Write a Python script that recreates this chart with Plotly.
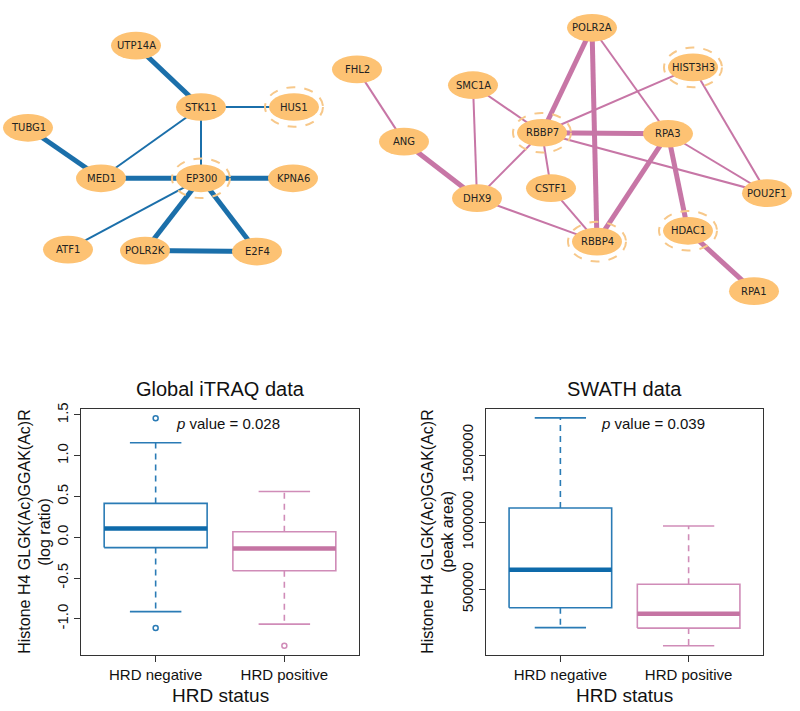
import plotly.graph_objects as go

# --- network data (positions in layout units) ---
left_nodes = ['UTP14A', 'STK11', 'HUS1', 'TUBG1', 'MED1', 'EP300', 'KPNA6', 'ATF1', 'POLR2K', 'E2F4']
left_x = [136, 201, 294, 28, 101, 201, 293, 68, 145, 257]
left_y = [39, 101, 101, 122, 173, 173, 173, 245, 246, 247]
left_ring = ['HUS1', 'EP300']
left_edges = [('UTP14A', 'STK11', 'thick'), ('STK11', 'HUS1', 'thin'), ('STK11', 'MED1', 'thin'),
              ('STK11', 'EP300', 'thin'), ('TUBG1', 'MED1', 'thick'), ('MED1', 'EP300', 'thick'),
              ('EP300', 'KPNA6', 'thick'), ('EP300', 'ATF1', 'thin'), ('EP300', 'POLR2K', 'thick'),
              ('EP300', 'E2F4', 'thick'), ('POLR2K', 'E2F4', 'thick')]

right_nodes = ['POLR2A', 'FHL2', 'SMC1A', 'HIST3H3', 'RBBP7', 'RPA3', 'ANG', 'DHX9', 'CSTF1',
               'POU2F1', 'RBBP4', 'HDAC1', 'RPA1']
right_x = [592, 357, 473, 693, 542, 668, 404, 477, 551, 767, 597, 688, 754]
right_y = [21, 63, 79, 61, 127, 128, 136, 193, 183, 188, 237, 226, 287]
right_ring = ['HIST3H3', 'RBBP7', 'RBBP4', 'HDAC1']
right_edges = [('FHL2', 'ANG', 'thin'), ('ANG', 'DHX9', 'thick'), ('SMC1A', 'DHX9', 'thin'),
               ('SMC1A', 'RBBP7', 'thin'), ('RBBP7', 'DHX9', 'thin'), ('RBBP7', 'POLR2A', 'thick'),
               ('POLR2A', 'RBBP4', 'thick'), ('POLR2A', 'RPA3', 'thin'), ('HIST3H3', 'RBBP7', 'thin'),
               ('HIST3H3', 'POU2F1', 'thin'), ('RBBP7', 'RPA3', 'thick'), ('RBBP7', 'POU2F1', 'thin'),
               ('RBBP7', 'CSTF1', 'thin'), ('RPA3', 'POU2F1', 'thin'), ('RPA3', 'RBBP4', 'thick'),
               ('RPA3', 'HDAC1', 'thick'), ('CSTF1', 'RBBP4', 'thin'), ('DHX9', 'RBBP4', 'thin'),
               ('HDAC1', 'RPA1', 'thick')]

# --- boxplot summary data ---
groups = ['HRD negative', 'HRD positive']
itraq_q1 = [-0.126, -0.409]
itraq_med = [0.108, -0.138]
itraq_q3 = [0.416, 0.068]
itraq_lo = [-0.911, -1.064]
itraq_hi = [1.16, 0.562]
itraq_out_x = [1, 1, 2]
itraq_out_y = [1.46, -1.11, -1.33]

swath_q1 = [364000, 212000]
swath_med = [648000, 320000]
swath_q3 = [1108000, 539000]
swath_lo = [216000, 81000]
swath_hi = [1780000, 973000]

NODE = '#FDC273'
RING = '#F7C88A'
BLUE = '#1B6FAA'
PINK = '#C776A6'
box_cols = ['#2A7BB5', '#D08CB8']
med_cols = ['#0E6AAA', '#C574A3']

fig = go.Figure()
shapes = []
annotations = []

H_NET = 310


def add_network(nodes, xs, ys, rings, edges, col):
    pos = {n: (x, y) for n, x, y in zip(nodes, xs, ys)}
    for a, b, w in edges:
        fig.add_trace(go.Scatter(x=[pos[a][0], pos[b][0]], y=[pos[a][1], pos[b][1]],
                                 mode='lines', xaxis='x3', yaxis='y3', showlegend=False,
                                 hoverinfo='skip',
                                 line=dict(color=col, width=5 if w == 'thick' else 2)))
    for n in nodes:
        x, y = pos[n]
        if n in rings:
            shapes.append(dict(type='circle', xref='x3', yref='y3', x0=x - 29, x1=x + 29,
                               y0=y - 20, y1=y + 20, line=dict(color=RING, width=2, dash='dash'),
                               fillcolor='rgba(0,0,0,0)'))
        shapes.append(dict(type='circle', xref='x3', yref='y3', x0=x - 25, x1=x + 25,
                           y0=y - 14, y1=y + 14, line=dict(width=0), fillcolor=NODE))
        annotations.append(dict(x=x, y=y, xref='x3', yref='y3', text=n, showarrow=False,
                                font=dict(family='DejaVu Sans', size=10, color='#222')))


add_network(left_nodes, left_x, left_y, left_ring, left_edges, BLUE)
add_network(right_nodes, right_x, right_y, right_ring, right_edges, PINK)


def add_boxes(xa, ya, q1, med, q3, lo, hi):
    for i in range(2):
        c = i + 1
        # box
        fig.add_trace(go.Scatter(x=[c - 0.4, c + 0.4, c + 0.4, c - 0.4, c - 0.4],
                                 y=[q1[i], q1[i], q3[i], q3[i], q1[i]], mode='lines',
                                 xaxis=xa, yaxis=ya, showlegend=False, hoverinfo='skip',
                                 line=dict(color=box_cols[i], width=1.6)))
        # median
        fig.add_trace(go.Scatter(x=[c - 0.4, c + 0.4], y=[med[i], med[i]], mode='lines',
                                 xaxis=xa, yaxis=ya, showlegend=False, hoverinfo='skip',
                                 line=dict(color=med_cols[i], width=4.5)))
        # whiskers
        for a, b in [(q3[i], hi[i]), (q1[i], lo[i])]:
            fig.add_trace(go.Scatter(x=[c, c], y=[a, b], mode='lines', xaxis=xa, yaxis=ya,
                                     showlegend=False, hoverinfo='skip',
                                     line=dict(color=box_cols[i], width=1.6, dash='6px,5px')))
            fig.add_trace(go.Scatter(x=[c - 0.2, c + 0.2], y=[b, b], mode='lines',
                                     xaxis=xa, yaxis=ya, showlegend=False, hoverinfo='skip',
                                     line=dict(color=box_cols[i], width=1.6)))


add_boxes('x', 'y', itraq_q1, itraq_med, itraq_q3, itraq_lo, itraq_hi)
add_boxes('x2', 'y2', swath_q1, swath_med, swath_q3, swath_lo, swath_hi)

fig.add_trace(go.Scatter(x=itraq_out_x, y=itraq_out_y, mode='markers', xaxis='x', yaxis='y',
                         showlegend=False, hoverinfo='skip',
                         marker=dict(symbol='circle-open', size=5, line=dict(width=1.5),
                                     color=[box_cols[x - 1] for x in itraq_out_x])))

W, H = 800, 711
font = dict(family='Liberation Sans, Arial', color='#111')

ax_common = dict(showline=True, mirror=True, linecolor='#333', linewidth=1.3, ticks='outside',
                 ticklen=6, tickcolor='#333', showgrid=False, zeroline=False,
                 tickfont=dict(size=15, family='Liberation Sans, Arial', color='#111'))

itraq_ticks = [-1.0, -0.5, 0.0, 0.5, 1.0, 1.5]
swath_ticks = [500000, 1000000, 1500000]

fig.update_layout(
    width=W, height=H, margin=dict(l=0, r=0, t=0, b=0),
    plot_bgcolor='white', paper_bgcolor='white', font=font,
    xaxis=dict(domain=[81 / W, 359 / W], range=[0.42, 2.58], tickvals=[1, 2], ticktext=groups,
               anchor='y', **ax_common),
    yaxis=dict(domain=[57 / H, 305 / H], range=[-1.437, 1.573], tickvals=itraq_ticks,
               ticktext=['%.1f' % v for v in itraq_ticks], tickangle=-90, anchor='x',
               **ax_common),
    xaxis2=dict(domain=[486 / W, 763 / W], range=[0.42, 2.58], tickvals=[1, 2], ticktext=groups,
                anchor='y2', **ax_common),
    yaxis2=dict(domain=[57 / H, 305 / H], range=[14800, 1846000], tickvals=swath_ticks,
                ticktext=[str(v) for v in swath_ticks], tickangle=-90, anchor='x2',
                **ax_common),
    xaxis3=dict(domain=[0, 1], range=[0, W], visible=False, anchor='y3'),
    yaxis3=dict(domain=[1 - H_NET / H, 1], range=[H_NET, 0], visible=False, anchor='x3'),
    shapes=shapes,
)

txt = [
    dict(x=220, y=386, text='Global iTRAQ data', size=20),
    dict(x=624, y=386, text='SWATH data', size=20),
    dict(x=228, y=421, text='<i>p</i> value = 0.028', size=15),
    dict(x=653, y=421, text='<i>p</i> value = 0.039', size=15),
    dict(x=220, y=695, text='HRD status', size=19),
    dict(x=624, y=695, text='HRD status', size=19),
]
for t in txt:
    annotations.append(dict(x=t['x'] / W, y=1 - t['y'] / H, xref='paper', yref='paper',
                            text=t['text'], showarrow=False, xanchor='center', yanchor='middle',
                            font=dict(size=t['size'], family='Liberation Sans, Arial', color='#111')))

ytitles = [
    (25, 'Histone H4 GLGK(Ac)GGAK(Ac)R'), (45, '(log ratio)'),
    (428, 'Histone H4 GLGK(Ac)GGAK(Ac)R'), (448, '(peak area)'),
]
for x, t in ytitles:
    annotations.append(dict(x=x / W, y=1 - 530 / H, xref='paper', yref='paper', text=t,
                            showarrow=False, textangle=-90, xanchor='center', yanchor='middle',
                            font=dict(size=16, family='Liberation Sans, Arial', color='#111')))

fig.update_layout(annotations=annotations)

# drop the browser's default page margin so the figure sits at the top-left corner
fig.write_html('out.html', config={'displayModeBar': False},
               post_script="document.body.style.margin='0px';")
